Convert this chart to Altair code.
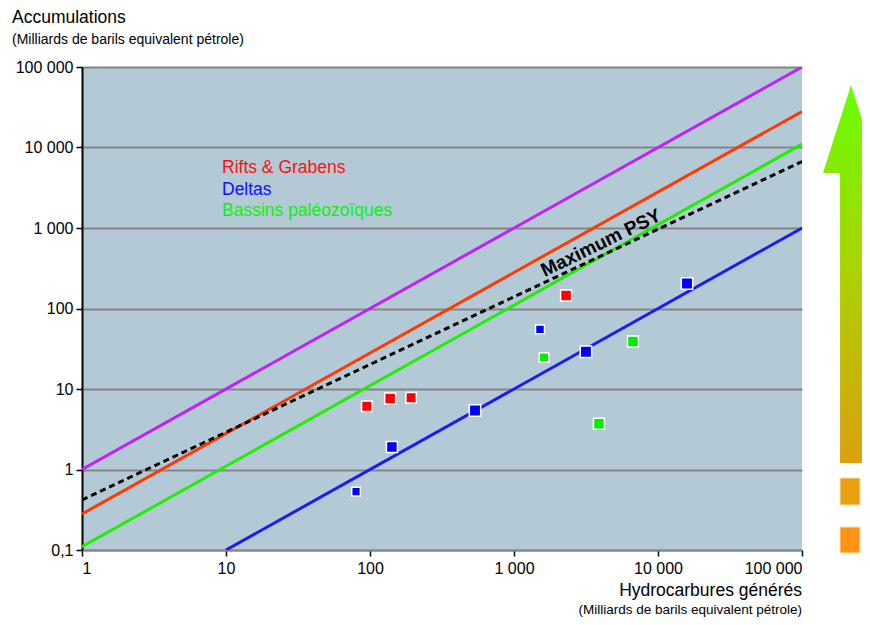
import altair as alt
import pandas as pd

# ---- data ----
x_ticks = [1, 10, 100, 1000, 10000, 100000]
x_tick_labels = ["1", "10", "100", "1 000", "10 000", "100 000"]
y_ticks = [0.1, 1, 10, 100, 1000, 10000, 100000]
y_tick_labels = ["0,1", "1", "10", "100", "1 000", "10 000", "100 000"]

# reference lines (endpoints, log-log straight lines)
line_names = ["purple", "red", "green", "blue"]
line_x0 = [1, 1, 1, 10]
line_y0 = [1, 0.28, 0.11, 0.1]
line_x1 = [100000, 100000, 100000, 100000]
line_y1 = [100000, 28000, 11000, 1000]
line_colors = ["#c020ff", "#ff3a00", "#22ee00", "#1a1aff"]

psy_x = [1, 100000]
psy_y = [0.42, 6700]

# basins
pt_group = ["Rifts", "Rifts", "Rifts", "Rifts",
            "Deltas", "Deltas", "Deltas", "Deltas", "Deltas", "Deltas",
            "Paleo", "Paleo", "Paleo"]
pt_x = [95, 138, 193, 2300,
        80, 142, 536, 1515, 3160, 15900,
        1615, 6700, 3890]
pt_y = [6.1, 7.6, 7.8, 145,
        0.53, 1.9, 5.4, 55, 29, 204,
        24.6, 39, 3.7]
pt_size = [110, 120, 110, 120,
           75, 120, 130, 80, 130, 130,
           90, 120, 120]
pt_domain = ["Rifts", "Deltas", "Paleo"]
pt_colors = ["#ff0000", "#0000ff", "#00ee00"]

legend_labels = ["Rifts & Grabens", "Deltas", "Bassins paléozoïques"]

FONT = "Liberation Sans"

def label_expr(vals, labs):
    expr = "''"
    for v, l in reversed(list(zip(vals, labs))):
        expr = f"abs(datum.value - {v}) < {v}*0.01 ? '{l}' : ({expr})"
    return expr

W, H = 720, 483

xscale = alt.Scale(type="log", domain=[1, 100000], nice=False)
yscale = alt.Scale(type="log", domain=[0.1, 100000], nice=False)

xaxis = alt.Axis(values=x_ticks, labelExpr=label_expr(x_ticks, x_tick_labels),
                 grid=False, title=None, labelFont=FONT, labelFontSize=16,
                 labelColor="black", tickColor="black", tickSize=6, tickWidth=1.5,
                 domainColor="#888888", domainWidth=2, labelFlush=True, labelPadding=4)
yaxis = alt.Axis(values=y_ticks, labelExpr=label_expr(y_ticks, y_tick_labels),
                 grid=True, gridColor="#858585", gridWidth=2, title=None,
                 labelFont=FONT, labelFontSize=16, labelColor="black",
                 tickColor="black", tickSize=6, tickWidth=1.5,
                 domainColor="black", domainWidth=2, labelPadding=3)

# lines
rows = []
for n, x0, y0, x1, y1 in zip(line_names, line_x0, line_y0, line_x1, line_y1):
    rows.append({"name": n, "x": x0, "y": y0})
    rows.append({"name": n, "x": x1, "y": y1})
lines_df = pd.DataFrame(rows)

lines = alt.Chart(lines_df).mark_line(strokeWidth=3, clip=True).encode(
    x=alt.X("x:Q", scale=xscale, axis=xaxis),
    y=alt.Y("y:Q", scale=yscale, axis=yaxis),
    stroke=alt.Stroke("name:N", scale=alt.Scale(domain=line_names, range=line_colors), legend=None),
    detail="name:N",
)

psy_df = pd.DataFrame({"x": psy_x, "y": psy_y})
psy = alt.Chart(psy_df).mark_line(color="black", strokeWidth=3, strokeDash=[6, 4], clip=True).encode(
    x=alt.X("x:Q", scale=xscale), y=alt.Y("y:Q", scale=yscale)
)

pts_df = pd.DataFrame({"g": pt_group, "x": pt_x, "y": pt_y, "s": pt_size})
pts = alt.Chart(pts_df).mark_square(opacity=1, filled=True, stroke="white", strokeWidth=1.5).encode(
    x=alt.X("x:Q", scale=xscale), y=alt.Y("y:Q", scale=yscale),
    fill=alt.Fill("g:N", scale=alt.Scale(domain=pt_domain, range=pt_colors), legend=None),
    size=alt.Size("s:Q", scale=None, legend=None),
)

one = pd.DataFrame({"a": [0]})

def txt(text, x, y, size, color="black", align="left", bold=False, angle=0):
    kw = dict(text=text, font=FONT, fontSize=size, color=color, align=align,
              baseline="middle", fontWeight="bold" if bold else "normal")
    if angle:
        kw["angle"] = angle
    return alt.Chart(one).mark_text(**kw).encode(x=alt.value(x), y=alt.value(y))

legend_layers = [
    txt(legend_labels[0], 140, 101, 17.5, "#ff1010"),
    txt(legend_labels[1], 140, 123, 17.5, "#1010ff"),
    txt(legend_labels[2], 140, 144, 17.5, "#10ee10"),
]
psy_label = txt("Maximum PSY", 519, 176, 19, "black", "center", True, 334)

titles = [
    txt("Accumulations", -70, -49, 17.5),
    txt("(Milliards de barils equivalent pétrole)", -70, -27, 14),
    txt("Hydrocarbures générés", 720, 524, 17.5, align="right"),
    txt("(Milliards de barils equivalent pétrole)", 720, 543, 13.5, align="right"),
]

arrow_path = ("M0,-1 L0.148,-0.534 L0.058,-0.534 L0.058,1 L-0.058,1 "
              "L-0.058,-0.534 L-0.148,-0.534 Z")
grad = alt.Gradient(gradient="linear", x1=0, y1=0, x2=0, y2=1,
                    stops=[alt.GradientStop(offset=0, color="#66ff00"),
                           alt.GradientStop(offset=0.45, color="#a6d600"),
                           alt.GradientStop(offset=1, color="#dba010")])
arrow = alt.Chart(one).mark_point(shape=arrow_path, filled=True, fill=grad,
                                  strokeWidth=0, opacity=1, size=378 * 378).encode(
    x=alt.value(769), y=alt.value(207)
)
sq1 = alt.Chart(one).mark_rect(fill="#e9a010", stroke="#f8e0b0", strokeWidth=1).encode(
    x=alt.value(758), x2=alt.value(778), y=alt.value(411), y2=alt.value(438))
sq2 = alt.Chart(one).mark_rect(fill="#ff9414", stroke="#ffe0b0", strokeWidth=1).encode(
    x=alt.value(758), x2=alt.value(778), y=alt.value(460), y2=alt.value(486))

chart = alt.layer(lines, psy, pts, *legend_layers, psy_label, *titles, arrow, sq1, sq2).resolve_scale(
    fill="independent", stroke="independent"
).properties(
    width=W, height=H,
    autosize=alt.AutoSizeParams(type="none"),
    padding={"left": 74, "top": 59, "right": 60, "bottom": 67},
    background="white",
).configure_view(fill="#b3cad6", stroke=None)

chart.save("out.html", embed_options={"renderer": "svg", "actions": False})
